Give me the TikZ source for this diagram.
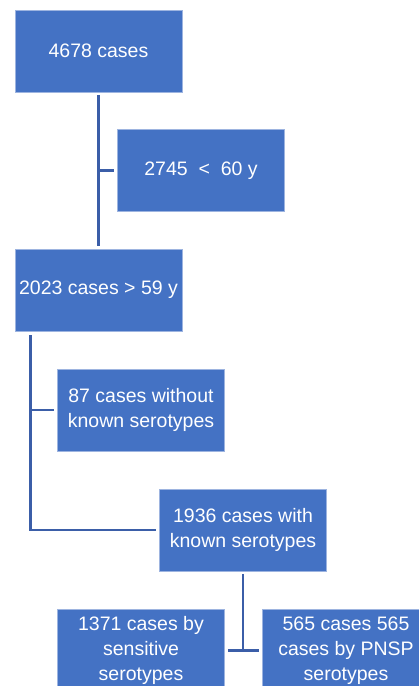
\documentclass[tikz,border=0pt]{standalone}
\usepackage{fontspec}
\setmainfont{Liberation Sans}
\definecolor{boxblue}{HTML}{4472C4}
\definecolor{boxedge}{HTML}{9DB4E0}
\definecolor{linkblue}{HTML}{3B5EA8}
\begin{document}
\begin{tikzpicture}[x=1pt,y=-1pt,
  box/.style={rectangle, fill=boxblue, draw=boxedge, line width=0.7pt,
    minimum width=167pt, minimum height=82pt, inner sep=0pt, text=white,
    align=center, font=\fontsize{19.5}{25}\selectfont},
  link/.style={draw=linkblue, line width=2.6pt}]
\useasboundingbox (0,0) rectangle (419,686);
\clip (0,0) rectangle (419,686);
\node[box] (n1) at (98.5,51) {4678 cases};
\node[box] (n2) at (201,170.5) {2745\ \ <\ \ 60 y};
\node[box] (n3) at (98.5,290) {2023 cases > 59 y};
\node[box] (n4) at (141,410) {87 cases without\\known serotypes};
\node[box] (n5) at (243,530) {1936 cases with\\known serotypes};
\node[box] (n6) at (141,650.5) {1371 cases by\\sensitive\\serotypes};
\node[box] (n7) at (346,650.5) {565 cases 565\\cases by PNSP\\serotypes};
\coordinate (t1) at ([yshift=2.5pt]n3.north);
\coordinate (j1) at (n1.south |- n2.west);
\draw[link] ([yshift=-2.5pt]n1.south) -- (t1);
\draw[link] (j1) -- ([xshift=-3pt]n2.west);
\coordinate (s3) at ([yshift=-4pt]n3.south west);
\coordinate (j3) at ([xshift=16pt]s3);
\coordinate (j4) at (j3 |- n4.west);
\coordinate (j5) at (j3 |- n5.west);
\draw[link] (j3) -- (j4) -- (j5) -- ([xshift=-3pt]n5.west);
\draw[link] (j4) -- ([xshift=-3pt]n4.west);
\coordinate (j6) at (n5.south |- n6.east);
\draw[link] ([yshift=-2.5pt]n5.south) -- (j6);
\draw[link] ([xshift=3pt]n6.east) -- ([xshift=-3pt]n7.west);
\end{tikzpicture}
\end{document}
